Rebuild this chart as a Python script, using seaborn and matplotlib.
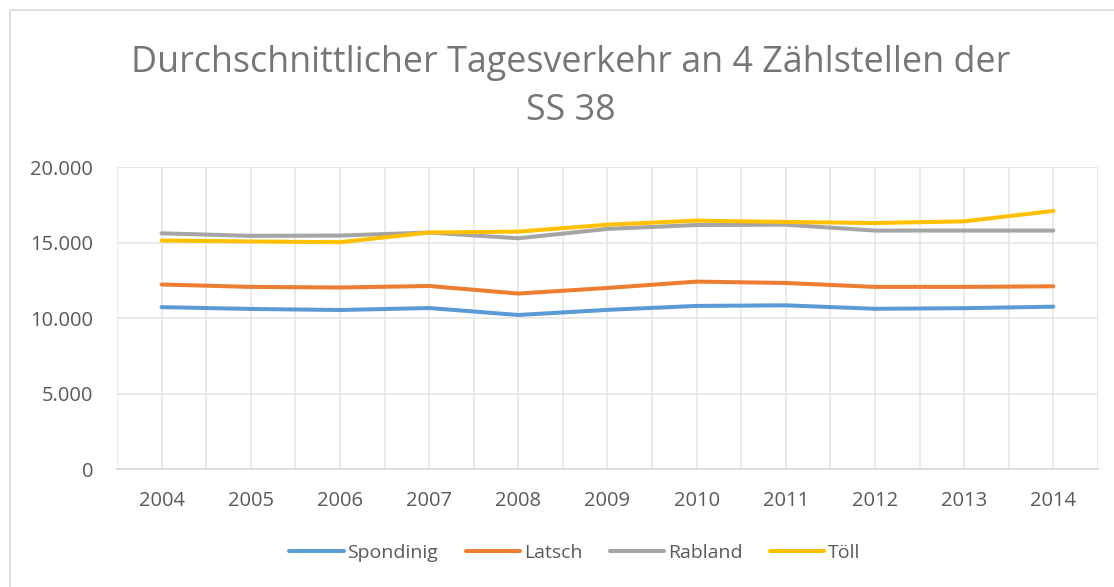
import pandas as pd
import matplotlib
matplotlib.use("Agg")
import matplotlib.pyplot as plt
from matplotlib.ticker import FuncFormatter, MultipleLocator
from matplotlib.patches import Rectangle
import seaborn as sns

years = [2004, 2005, 2006, 2007, 2008, 2009, 2010, 2011, 2012, 2013, 2014]
spondinig = [10720, 10600, 10530, 10660, 10200, 10540, 10800, 10840, 10610, 10650, 10750]
latsch = [12220, 12060, 12020, 12120, 11620, 11990, 12410, 12320, 12060, 12060, 12100]
rabland = [15610, 15440, 15460, 15660, 15280, 15900, 16160, 16180, 15790, 15790, 15790]
toell = [15130, 15070, 15020, 15660, 15720, 16180, 16450, 16360, 16290, 16400, 17090]

series_names = ["Spondinig", "Latsch", "Rabland", "Töll"]
colors = ["#5B9BD5", "#ED7D31", "#A5A5A5", "#FFC000"]

df = pd.DataFrame({"Jahr": years, "Spondinig": spondinig, "Latsch": latsch,
                   "Rabland": rabland, "Töll": toell})
long_df = df.melt(id_vars="Jahr", var_name="Zählstelle", value_name="DTV")

sns.set_style("white")
plt.rcParams["font.family"] = ["Open Sans", "DejaVu Sans"]

fig = plt.figure(figsize=(11.14, 5.87), dpi=100)
ax = fig.add_axes([0.105, 0.201, 0.8806, 0.5145])

sns.lineplot(data=long_df, x="Jahr", y="DTV", hue="Zählstelle",
             hue_order=series_names, palette=colors, linewidth=2.9,
             ax=ax, legend=False)

ax.set_xlim(2003.5, 2014.5)
ax.set_ylim(0, 20000)
ax.set_xticks(years)
ax.xaxis.set_minor_locator(MultipleLocator(0.5))
ax.yaxis.set_major_locator(MultipleLocator(5000))
ax.yaxis.set_major_formatter(FuncFormatter(lambda v, p: f"{int(v):,}".replace(",", ".")))
ax.grid(True, which="both", axis="x", color="#E6E6E6", linewidth=1.2)
ax.grid(True, which="major", axis="y", color="#E6E6E6", linewidth=1.2)
ax.tick_params(axis="both", which="both", length=0, labelsize=14.5, colors="#595959")
ax.tick_params(axis="x", pad=16)
ax.tick_params(axis="y", pad=17)
ax.set_xlabel("")
ax.set_ylabel("")
for side in ["top", "right", "left"]:
    ax.spines[side].set_visible(False)
ax.spines["bottom"].set_color("#D9D9D9")
ax.spines["bottom"].set_linewidth(1.3)

fig.text(0.5125, 0.893, "Durchschnittlicher Tagesverkehr an 4 Zählstellen der",
         ha="center", va="center", fontsize=25.8, color="#767676")
fig.text(0.5125, 0.811, "SS 38", ha="center", va="center", fontsize=25.8, color="#767676")

handles = [plt.Line2D([], [], color=c, linewidth=2.9) for c in colors]
fig.legend(handles, series_names, loc="center", bbox_to_anchor=(0.516, 0.058), ncol=4,
           frameon=False, fontsize=14, handlelength=2.8, handletextpad=0.2,
           columnspacing=1.4, labelcolor="#595959")

fig.patches.append(Rectangle((10 / 1114, -0.1), 1.2, 1 - 10 / 587 + 0.1,
                             transform=fig.transFigure, fill=False,
                             edgecolor="#D9D9D9", linewidth=1.2))

fig.savefig("out.png", dpi=100)
